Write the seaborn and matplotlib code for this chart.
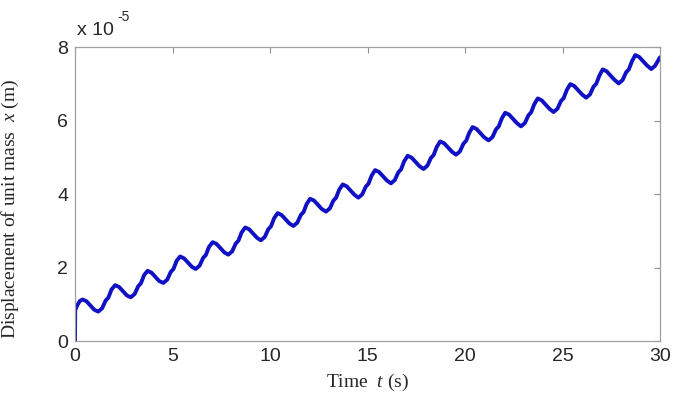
import matplotlib
matplotlib.use("Agg")
import matplotlib.pyplot as plt
import seaborn as sns
import pandas as pd

# time (s) and displacement (x 1e-5 m)
time_s = [
    0.00, 0.01, 0.12, 0.25, 0.39,
    0.59, 0.79, 0.99, 1.19, 1.39, 1.57, 1.71, 1.87, 2.06,
    2.26, 2.46, 2.66, 2.86, 3.06, 3.24, 3.38, 3.54, 3.72,
    3.92, 4.12, 4.32, 4.53, 4.73, 4.91, 5.05, 5.21, 5.39,
    5.59, 5.79, 5.99, 6.19, 6.39, 6.57, 6.71, 6.87, 7.06,
    7.26, 7.46, 7.66, 7.86, 8.06, 8.24, 8.38, 8.54, 8.73,
    8.93, 9.13, 9.33, 9.53, 9.73, 9.91, 10.05, 10.21, 10.39,
    10.59, 10.79, 10.99, 11.20, 11.40, 11.58, 11.72, 11.88, 12.06,
    12.26, 12.46, 12.66, 12.87, 13.07, 13.25, 13.39, 13.55, 13.73,
    13.93, 14.13, 14.33, 14.53, 14.73, 14.91, 15.05, 15.21, 15.39,
    15.59, 15.79, 15.99, 16.20, 16.40, 16.58, 16.72, 16.88, 17.06,
    17.26, 17.46, 17.66, 17.87, 18.07, 18.25, 18.39, 18.55, 18.73,
    18.93, 19.13, 19.33, 19.54, 19.74, 19.92, 20.06, 20.22, 20.39,
    20.59, 20.79, 20.99, 21.21, 21.41, 21.59, 21.73, 21.89, 22.06,
    22.26, 22.46, 22.66, 22.87, 23.07, 23.25, 23.39, 23.55, 23.73,
    23.93, 24.13, 24.33, 24.54, 24.74, 24.92, 25.06, 25.22, 25.40,
    25.60, 25.80, 26.00, 26.21, 26.41, 26.59, 26.73, 26.89, 27.06,
    27.26, 27.46, 27.66, 27.88, 28.08, 28.26, 28.40, 28.56, 28.73,
    28.93, 29.13, 29.33, 29.55, 29.75, 30.00,
]
displacement = [
    0.00, 0.84, 0.98, 1.09, 1.13,
    1.08, 0.965, 0.85, 0.80, 0.89, 1.10, 1.18, 1.40, 1.52,
    1.47, 1.355, 1.24, 1.19, 1.28, 1.49, 1.57, 1.79, 1.91,
    1.86, 1.745, 1.63, 1.58, 1.67, 1.88, 1.96, 2.18, 2.30,
    2.25, 2.135, 2.02, 1.96, 2.05, 2.26, 2.34, 2.56, 2.69,
    2.64, 2.525, 2.41, 2.35, 2.44, 2.65, 2.73, 2.95, 3.09,
    3.04, 2.925, 2.81, 2.74, 2.83, 3.04, 3.12, 3.34, 3.48,
    3.43, 3.315, 3.20, 3.13, 3.22, 3.43, 3.51, 3.73, 3.87,
    3.82, 3.705, 3.59, 3.52, 3.61, 3.82, 3.90, 4.12, 4.26,
    4.21, 4.095, 3.98, 3.90, 3.99, 4.20, 4.28, 4.50, 4.65,
    4.60, 4.485, 4.37, 4.29, 4.38, 4.59, 4.67, 4.89, 5.04,
    4.99, 4.875, 4.76, 4.68, 4.77, 4.98, 5.06, 5.28, 5.43,
    5.38, 5.265, 5.15, 5.07, 5.16, 5.37, 5.45, 5.67, 5.82,
    5.77, 5.655, 5.54, 5.46, 5.55, 5.76, 5.84, 6.06, 6.21,
    6.16, 6.045, 5.93, 5.84, 5.93, 6.14, 6.22, 6.44, 6.60,
    6.55, 6.435, 6.32, 6.23, 6.32, 6.53, 6.61, 6.83, 6.99,
    6.94, 6.825, 6.71, 6.62, 6.71, 6.92, 7.00, 7.22, 7.39,
    7.34, 7.225, 7.11, 7.01, 7.10, 7.31, 7.39, 7.61, 7.78,
    7.73, 7.615, 7.50, 7.40, 7.49, 7.72,
]
x_ticks = [0, 5, 10, 15, 20, 25, 30]
y_ticks = [0, 2, 4, 6, 8]

df = pd.DataFrame({"t": time_s, "x": displacement})

sns.set_style("white")
plt.rcParams["font.family"] = ["Liberation Sans", "DejaVu Sans"]
plt.rcParams["mathtext.fontset"] = "custom"
plt.rcParams["mathtext.it"] = "Liberation Serif:italic"
plt.rcParams["mathtext.rm"] = "Liberation Serif"

fig = plt.figure(figsize=(6.77, 3.98), dpi=100)
ax = fig.add_axes([0.1108, 0.1432, 0.8641, 0.7387])

sns.lineplot(data=df, x="t", y="x", ax=ax, sort=False, estimator=None,
             color="#1010c4", linewidth=2.8)

ax.set_xlim(0, 30)
ax.set_ylim(0, 8)
ax.set_xticks(x_ticks)
ax.set_yticks(y_ticks)
ax.tick_params(direction="in", length=4, width=0.8, color="#909090",
               top=True, right=True, labelsize=14, pad=5)
for s in ax.spines.values():
    s.set_color("#a0a0a0")
    s.set_linewidth(0.9)

ax.set_xlabel(r"Time  $t$ (s)", family="Liberation Serif", fontsize=14, labelpad=5)
ax.set_ylabel(r"Displacement of unit mass  $x$ (m)", family="Liberation Serif",
              fontsize=14, labelpad=12)
ax.yaxis.set_label_coords(-0.093, 0.45)
ax.text(0.004, 1.04, "x 10", transform=ax.transAxes, fontsize=14,
        va="baseline", ha="left")
ax.text(0.072, 1.09, "-5", transform=ax.transAxes, fontsize=10,
        va="baseline", ha="left")

fig.savefig("out.png", dpi=100)
